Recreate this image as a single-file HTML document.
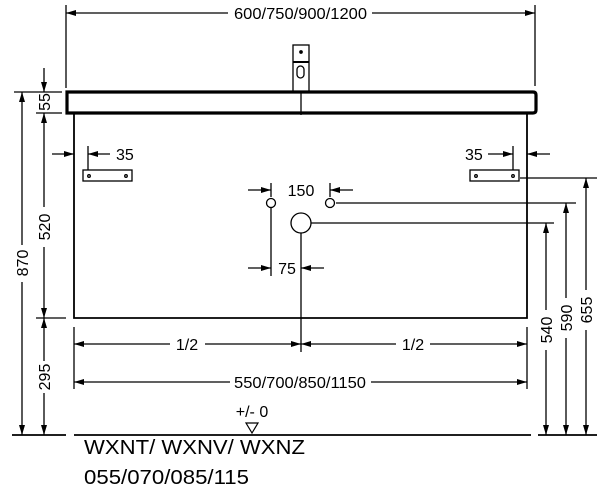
<!DOCTYPE html>
<html><head><meta charset="utf-8"><style>
html,body{margin:0;padding:0;background:#fff}
svg{display:block}
text{font-family:"Liberation Sans",Arial,sans-serif;fill:#000}
</style></head><body>
<svg width="600" height="488" viewBox="0 0 600 488" xmlns="http://www.w3.org/2000/svg">
<defs>
<marker id="a" viewBox="0 0 10 6" refX="10" refY="3" markerWidth="10" markerHeight="6" markerUnits="userSpaceOnUse" orient="auto"><path d="M0,0 L10,3 L0,6 z" fill="#000"/></marker>
</defs>
<g stroke="#000" stroke-width="1.3" fill="none">
<!-- top dim -->
<line x1="66" y1="5" x2="66" y2="88"/><line x1="535" y1="5" x2="535" y2="86"/>
<line x1="228" y1="13" x2="66" y2="13" marker-end="url(#a)"/>
<line x1="372" y1="13" x2="535" y2="13" marker-end="url(#a)"/>
<!-- faucet -->
<rect x="293" y="45" width="16" height="47" fill="#fff"/>
<line x1="293" y1="62" x2="309" y2="62" stroke-width="2"/>
<rect x="297" y="66" width="7" height="12" rx="3.5"/>
<circle cx="301" cy="52" r="1.2" fill="#000"/>
<!-- countertop -->
<path d="M67,92 L533,92 Q536,92 536,95 L536,110 Q536,113 533,113 L67,113 Z" stroke-width="3.2" fill="#fff"/>
<line x1="301" y1="92" x2="301" y2="115"/>
<!-- cabinet -->
<path d="M74,113 L74,318 L527,318 L527,113" stroke-width="1.8"/>
<!-- left dims -->
<line x1="14" y1="92" x2="62" y2="92"/>
<line x1="36" y1="113" x2="62" y2="113"/>
<line x1="36" y1="318" x2="66" y2="318"/>
<line x1="12" y1="435" x2="66" y2="435" stroke-width="1.8"/>
<line x1="22" y1="245" x2="22" y2="92" marker-end="url(#a)"/>
<line x1="22" y1="282" x2="22" y2="435" marker-end="url(#a)"/>
<line x1="44" y1="68" x2="44" y2="92" marker-end="url(#a)"/>
<line x1="44" y1="207" x2="44" y2="113" marker-end="url(#a)"/>
<line x1="44" y1="247" x2="44" y2="318" marker-end="url(#a)"/>
<line x1="44" y1="361" x2="44" y2="318" marker-end="url(#a)"/>
<line x1="44" y1="393" x2="44" y2="435" marker-end="url(#a)"/>
<!-- ground -->
<line x1="74" y1="435" x2="531" y2="435" stroke-width="1.8"/>
<line x1="538" y1="435" x2="597" y2="435" stroke-width="1.8"/>
<!-- brackets -->
<rect x="83" y="170" width="49" height="11"/>
<rect x="470" y="170" width="49" height="11"/>
<circle cx="89" cy="176" r="1.3"/><circle cx="126" cy="176" r="1.3"/>
<circle cx="476" cy="176" r="1.3"/><circle cx="513" cy="176" r="1.3"/>
<line x1="88" y1="146" x2="88" y2="170"/>
<line x1="513" y1="146" x2="513" y2="170"/>
<line x1="52" y1="154" x2="74" y2="154" marker-end="url(#a)"/>
<line x1="110" y1="154" x2="88" y2="154" marker-end="url(#a)"/>
<line x1="488" y1="154" x2="513" y2="154" marker-end="url(#a)"/>
<line x1="550" y1="154" x2="527" y2="154" marker-end="url(#a)"/>
<!-- holes -->
<circle cx="271" cy="203" r="4.5"/>
<circle cx="330" cy="203" r="4.5"/>
<circle cx="301" cy="223" r="10"/>
<line x1="271" y1="183" x2="271" y2="197"/>
<line x1="330" y1="183" x2="330" y2="197"/>
<line x1="248" y1="190" x2="271" y2="190" marker-end="url(#a)"/>
<line x1="353" y1="190" x2="330" y2="190" marker-end="url(#a)"/>
<line x1="271" y1="208" x2="271" y2="276"/>
<line x1="301" y1="233" x2="301" y2="352"/>
<line x1="248" y1="268" x2="271" y2="268" marker-end="url(#a)"/>
<line x1="324" y1="268" x2="301" y2="268" marker-end="url(#a)"/>
<!-- right dims -->
<line x1="520" y1="178" x2="597" y2="178"/>
<line x1="336" y1="203" x2="576" y2="203"/>
<line x1="311" y1="223" x2="554" y2="223"/>
<line x1="546" y1="310" x2="546" y2="223" marker-end="url(#a)"/>
<line x1="546" y1="350" x2="546" y2="435" marker-end="url(#a)"/>
<line x1="566" y1="298" x2="566" y2="203" marker-end="url(#a)"/>
<line x1="566" y1="338" x2="566" y2="435" marker-end="url(#a)"/>
<line x1="586" y1="290" x2="586" y2="178" marker-end="url(#a)"/>
<line x1="586" y1="330" x2="586" y2="435" marker-end="url(#a)"/>
<!-- bottom dims -->
<line x1="74" y1="327" x2="74" y2="389"/>
<line x1="527" y1="327" x2="527" y2="389"/>
<line x1="170" y1="344" x2="74" y2="344" marker-end="url(#a)"/>
<line x1="205" y1="344" x2="301" y2="344" marker-end="url(#a)"/>
<line x1="396" y1="344" x2="301" y2="344" marker-end="url(#a)"/>
<line x1="430" y1="344" x2="527" y2="344" marker-end="url(#a)"/>
<line x1="230" y1="382" x2="74" y2="382" marker-end="url(#a)"/>
<line x1="371" y1="382" x2="527" y2="382" marker-end="url(#a)"/>
<path d="M246,423 L258,423 L252,433 Z" stroke-width="1.2"/>
</g>
<g font-size="16">
<text x="234" y="19" textLength="133" lengthAdjust="spacingAndGlyphs">600/750/900/1200</text>
<text x="116" y="160">35</text>
<text x="465" y="160">35</text>
<text x="301" y="196" text-anchor="middle">150</text>
<text x="287" y="274" text-anchor="middle">75</text>
<text x="187" y="350" text-anchor="middle">1/2</text>
<text x="413" y="350" text-anchor="middle">1/2</text>
<text x="234" y="388" textLength="132" lengthAdjust="spacingAndGlyphs">550/700/850/1150</text>
<text x="252" y="417" text-anchor="middle">+/- 0</text>
<text transform="translate(28,263) rotate(-90)" text-anchor="middle">870</text>
<text transform="translate(50,102) rotate(-90)" text-anchor="middle">55</text>
<text transform="translate(50,227) rotate(-90)" text-anchor="middle">520</text>
<text transform="translate(50,377) rotate(-90)" text-anchor="middle">295</text>
<text transform="translate(552,330) rotate(-90)" text-anchor="middle">540</text>
<text transform="translate(572,318) rotate(-90)" text-anchor="middle">590</text>
<text transform="translate(592,310) rotate(-90)" text-anchor="middle">655</text>
</g>
<text x="84" y="454" font-size="20" textLength="221" lengthAdjust="spacingAndGlyphs">WXNT/ WXNV/ WXNZ</text>
<text x="84" y="484" font-size="20" textLength="165" lengthAdjust="spacingAndGlyphs">055/070/085/115</text>
</svg>
</body></html>
